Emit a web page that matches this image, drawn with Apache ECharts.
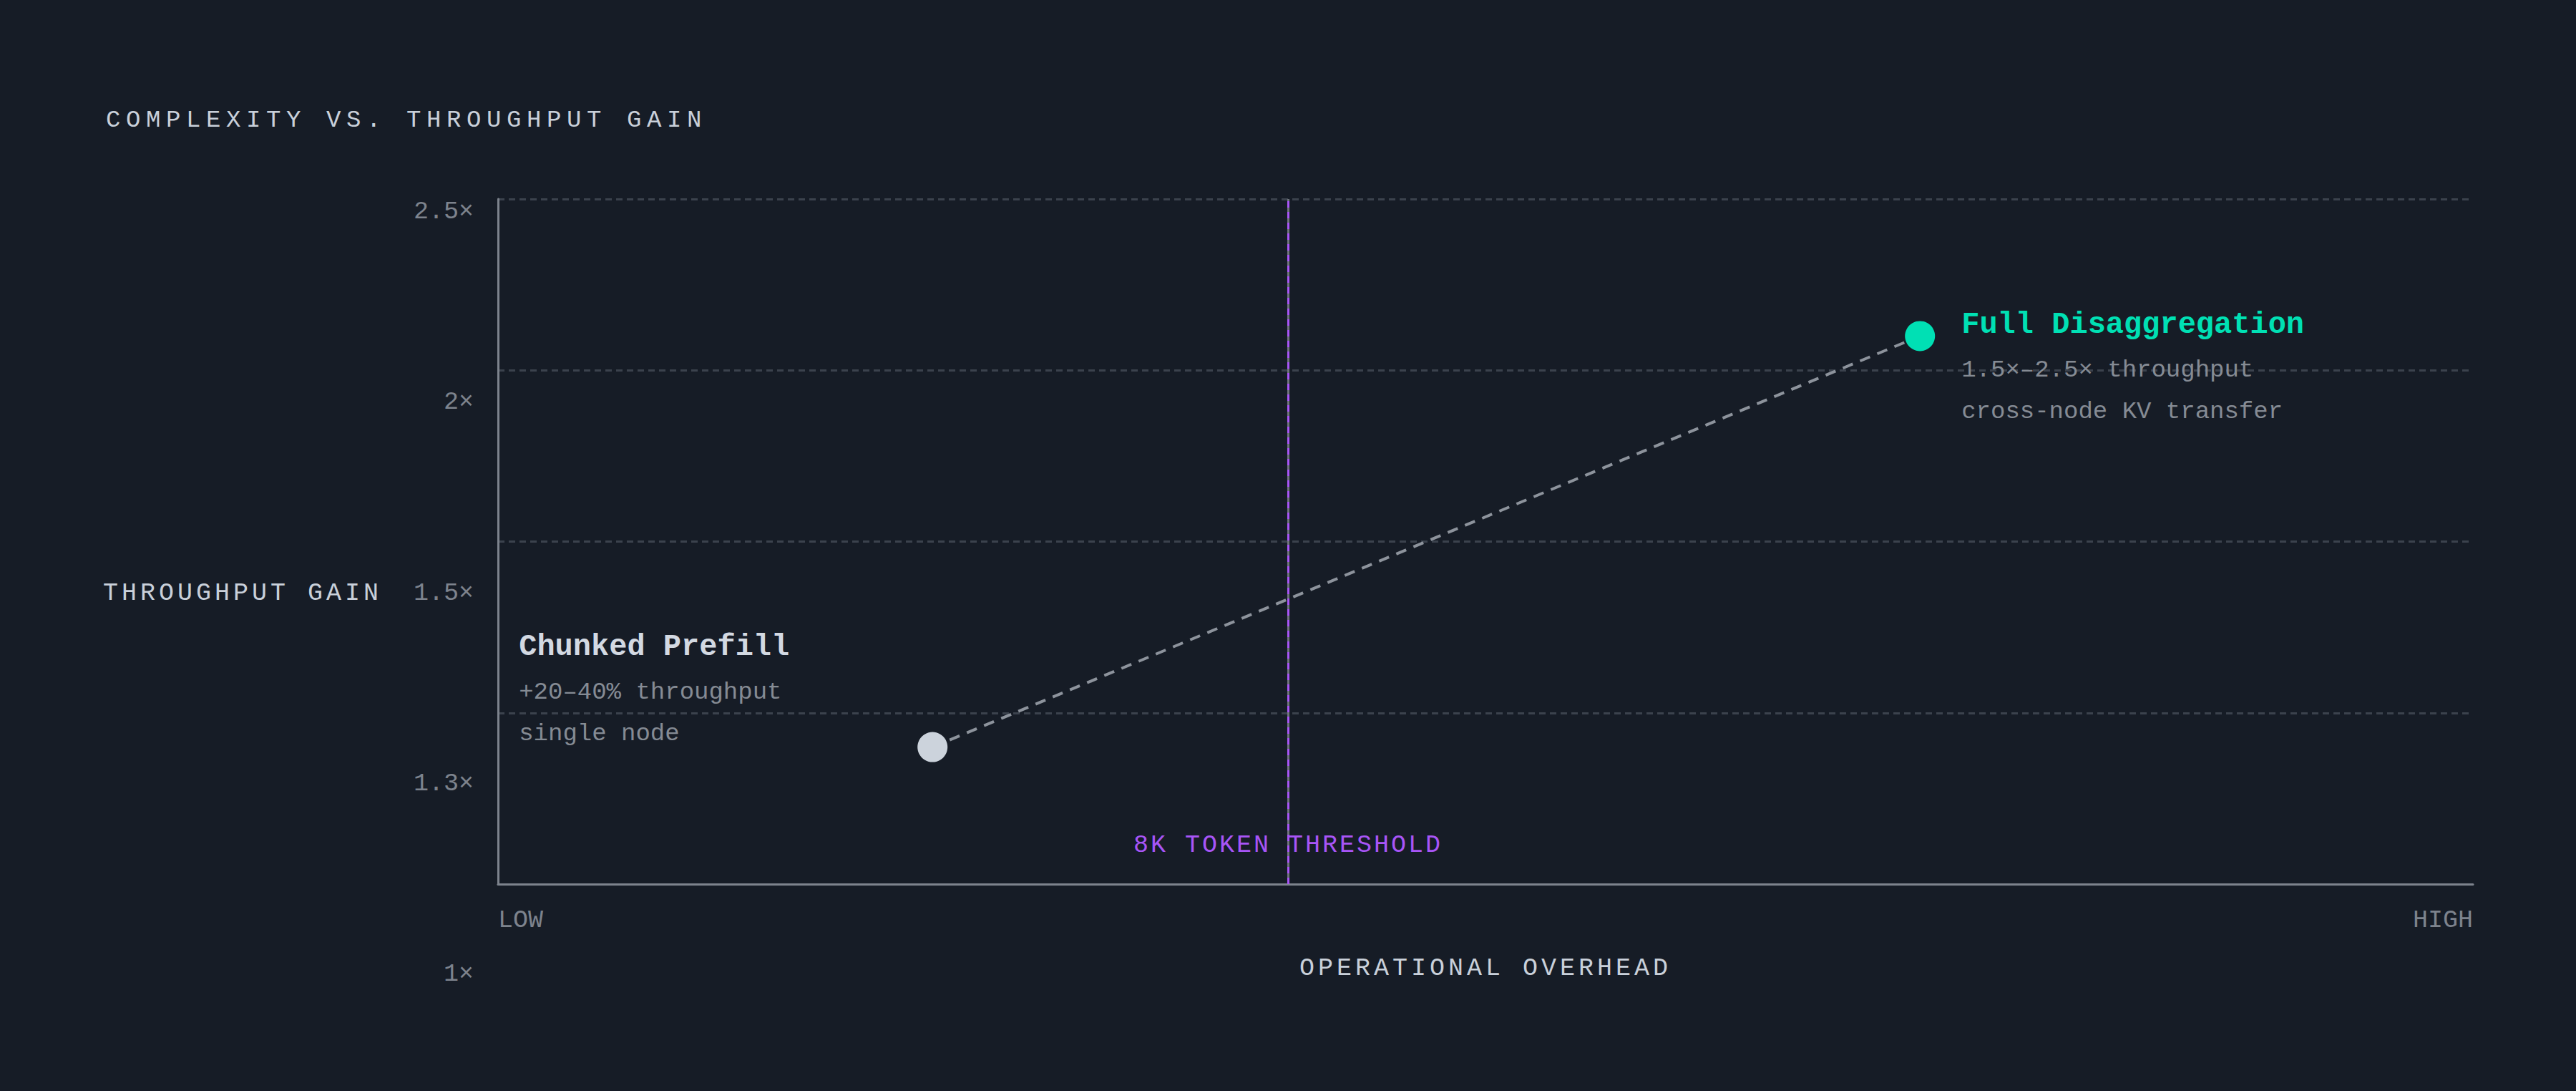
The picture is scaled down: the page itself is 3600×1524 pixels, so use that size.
<!DOCTYPE html>
<html>
<head>
<meta charset="utf-8">
<script src="https://cdn.jsdelivr.net/npm/echarts@6/dist/echarts.min.js"></script>
<style>
  html, body { margin: 0; padding: 0; background: #161c26; }
  #chart { width: 3600px; height: 1524px; }
  /* ECharts text has no letter-spacing option, so tag fonts and space them here */
  #chart text[style*="ls8"] { letter-spacing: 7.6px; }
  #chart text[style*="ls5"] { letter-spacing: 5px; }
  #chart text[style*="ls3"] { letter-spacing: 3px; }
</style>
</head>
<body>
<div id="chart"></div>
<script>
// data
const techniques = ['Chunked Prefill', 'Full Disaggregation'];
const overhead = [22, 72];          // 0 = low, 100 = high
const throughputGain = [1.3, 2.2];
const notes = [
    ['+20–40% throughput', 'single node'],
    ['1.5×–2.5× throughput', 'cross-node KV transfer']
];
const yTickLabels = ['2.5×', '2×', '1.5×', '1.3×', '1×'];
const xTickLabels = ['LOW', 'HIGH'];
const thresholdX = 40;
const thresholdLabel = '8K TOKEN THRESHOLD';

const MONO = "'Liberation Mono', monospace";
const spaced = (n) => "'Liberation Mono', ls" + n;

const bg = '#161c26';
const light = '#c9d0da';
const grey = '#7d838d';
const teal = '#00e0b4';
const purple = '#a855f7';

const dotColors = ['#ccd3dc', teal];
const titleColors = ['#d3d9e2', teal];
const labelOffsets = [[-557, -153], [79, -28]];

const chart = echarts.init(document.getElementById('chart'), null, { renderer: 'svg' });

const points = techniques.map((name, i) => ({
    name: name,
    value: [overhead[i], throughputGain[i]],
    itemStyle: { color: dotColors[i], opacity: 1 },
    label: {
        show: true,
        position: labelOffsets[i],
        align: 'left',
        verticalAlign: 'top',
        opacity: 1,
        formatter: '{t|' + name + '}\n' + notes[i].map(n => '{s|' + n + '}').join('\n'),
        rich: {
            t: { fontSize: 42, fontWeight: 'bold', color: titleColors[i], lineHeight: 68, fontFamily: MONO },
            s: { fontSize: 34, color: '#858b94', lineHeight: 58, fontFamily: MONO }
        }
    }
}));

const option = {
    backgroundColor: bg,
    animation: false,
    textStyle: { fontFamily: MONO },
    title: {
        text: 'COMPLEXITY VS. THROUGHPUT GAIN',
        left: 143,
        top: 146,
        textStyle: { fontSize: 34, fontWeight: 'normal', color: light, fontFamily: spaced(8) }
    },
    grid: [
        { left: 696, right: 144, top: 278, bottom: 289 },
        // label-only grid: the tick labels are spread wider than the plot
        { left: 696, right: 144, top: 296, bottom: 163 }
    ],
    xAxis: [
        {
            type: 'value',
            gridIndex: 0,
            min: 0,
            max: 100,
            interval: 100,
            name: 'OPERATIONAL OVERHEAD',
            nameLocation: 'middle',
            nameGap: 100,
            nameTextStyle: { fontSize: 35, color: light, fontFamily: spaced(5) },
            axisLine: { show: true, lineStyle: { color: grey, width: 3 } },
            axisTick: { show: false },
            splitLine: { show: false },
            axisLabel: {
                color: grey,
                fontSize: 35,
                margin: 33,
                alignMinLabel: 'left',
                alignMaxLabel: 'right',
                formatter: (v) => (v === 0 ? xTickLabels[0] : xTickLabels[1])
            }
        },
        { type: 'value', gridIndex: 1, show: false }
    ],
    yAxis: [
        {
            type: 'value',
            gridIndex: 0,
            min: 1,
            max: 2.5,
            interval: 0.375,
            axisLine: { show: true, lineStyle: { color: grey, width: 3 } },
            axisTick: { show: false },
            axisLabel: { show: false },
            splitLine: { show: true, lineStyle: { color: '#3b424d', width: 3, type: [9, 6] } }
        },
        {
            type: 'category',
            gridIndex: 1,
            data: yTickLabels,
            inverse: true,
            boundaryGap: false,
            name: 'THROUGHPUT GAIN',
            nameLocation: 'middle',
            nameRotate: 0,
            nameGap: 162,
            nameTextStyle: { fontSize: 35, color: light, fontFamily: spaced(5), align: 'right' },
            axisLine: { show: false },
            axisTick: { show: false },
            splitLine: { show: false },
            axisLabel: { color: grey, fontSize: 35, margin: 34 }
        }
    ],
    series: [
        {
            type: 'line',
            xAxisIndex: 0,
            yAxisIndex: 0,
            data: techniques.map((_, i) => [overhead[i], throughputGain[i]]),
            symbol: 'none',
            lineStyle: { color: '#8d939c', width: 4, type: [15, 11] },
            z: 2,
            markLine: {
                silent: true,
                symbol: 'none',
                label: { show: false },
                data: [
                    { xAxis: thresholdX, lineStyle: { color: '#70757d', width: 3, type: 'solid' } },
                    { xAxis: thresholdX, lineStyle: { color: purple, width: 3, type: [9, 6] } }
                ]
            }
        },
        {
            type: 'scatter',
            xAxisIndex: 0,
            yAxisIndex: 0,
            symbolSize: 42,
            data: points,
            z: 5
        }
    ]
};

chart.setOption(option);

// threshold caption sits just above the x axis, centred on the threshold line
const base = chart.convertToPixel({ gridIndex: 0 }, [thresholdX, 1]);
chart.setOption({
    graphic: [{
        type: 'text',
        x: base[0],
        y: base[1] - 54,
        z: 10,
        style: {
            text: thresholdLabel,
            fill: purple,
            fontSize: 35,
            fontFamily: spaced(3),
            align: 'center',
            verticalAlign: 'middle'
        }
    }]
});
</script>
</body>
</html>
